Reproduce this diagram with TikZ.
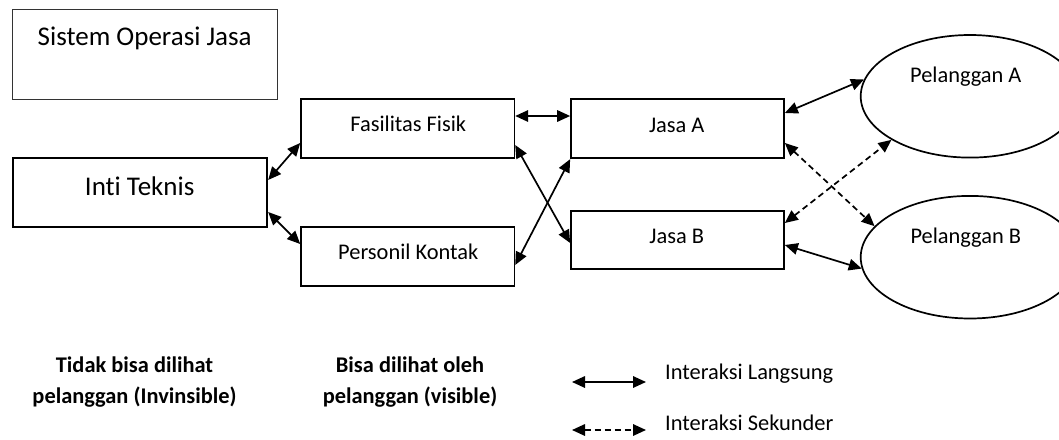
\documentclass[tikz,border=0pt]{standalone}
\usepackage{fontspec}
\setmainfont{Carlito}[Ligatures=NoCommon]
\usetikzlibrary{arrows.meta,shapes.geometric}
\begin{document}
\begin{tikzpicture}[x=1pt,y=-1pt,
  box/.style={draw, line width=1.7pt, rectangle, inner sep=0pt, minimum width=213.3pt, minimum height=59pt},
  ell/.style={draw, line width=1.7pt, ellipse, inner sep=0pt, minimum width=218.6pt, minimum height=122.6pt},
  lbl/.style={font=\fontsize{22.4}{26}\selectfont, anchor=base, inner sep=0pt},
  biglbl/.style={font=\fontsize{27}{32}\selectfont, anchor=base, inner sep=0pt},
  boldlbl/.style={font=\fontsize{22.4}{26}\selectfont\bfseries, anchor=base, inner sep=0pt},
  leglbl/.style={font=\fontsize{22.4}{26}\selectfont, anchor=base west, inner sep=0pt},
  tip/.tip={Triangle[length=13pt,width=11.5pt]},
  link/.style={line width=1.7pt, tip-tip},
  sec/.style={link, dash pattern=on 6pt off 4pt},
]
\useasboundingbox (0,0) rectangle (1059,439);
\clip (0,0) rectangle (1059,439);

% boxes
\node[draw=black!80, line width=1pt, rectangle, inner sep=0pt, minimum width=265pt, minimum height=90pt] (sys) at (145.2,54.3) {};
\node[box, minimum width=254.6pt, minimum height=69pt] (inti) at (140,192.8) {};
\node[box] (fas) at (407.7,128.8) {};
\node[box, minimum height=59.3pt] (pers) at (407.7,256.3) {};
\node[box, minimum width=213pt] (jasaA) at (677.5,128.8) {};
\node[box, minimum width=213pt, minimum height=58.6pt] (jasaB) at (677.5,240) {};
\node[ell] (pelA) at (970,96.3) {};
\node[ell] (pelB) at (970,257.2) {};

% texts
\node[biglbl] (tsys) at (144.7,45.7) {Sistem Operasi Jasa};
\node[biglbl] (tinti) at (139.7,195.4) {Inti Teknis};
\node[lbl] (tfas) at (408.3,131.5) {Fasilitas Fisik};
\node[lbl] (tpers) at (408.3,259.5) {Personil Kontak};
\node[lbl] (tjasaA) at (676.7,132.2) {Jasa A};
\node[lbl] (tjasaB) at (676.7,243.9) {Jasa B};
\node[lbl] (tpelA) at (965.8,82) {Pelanggan A};
\node[lbl] (tpelB) at (965.8,243.2) {Pelanggan B};

\node[boldlbl] (inv1) at (134.5,372.2) {Tidak bisa dilihat};
\node[boldlbl] (inv2) at (134.5,403.2) {pelanggan (Invinsible)};
\node[boldlbl] (vis1) at (410,372.2) {Bisa dilihat oleh};
\node[boldlbl] (vis2) at (410,403.2) {pelanggan (visible)};

% connectors
\draw[link] (inti.east |- 0,180) -- (fas.west |- 0,143);
\draw[link] (inti.east |- 0,212) -- (pers.west |- 0,244);
\draw[link] (fas.east |- 0,116) -- (jasaA.west |- 0,116);
\draw[link] (fas.east |- 0,145) -- (jasaB.west |- 0,243);
\draw[link] (pers.east |- 0,265) -- (jasaA.south west);
\draw[link] (jasaA.east |- 0,113) -- (pelA.171);
\draw[sec] (jasaA.east |- 0,143) -- (pelB.162);
\draw[sec] (jasaB.east |- 0,223) -- (pelA.209.6);
\draw[link] (jasaB.east |- 0,245) -- (pelB.186);

% legend
\coordinate (l1a) at (572,382);
\coordinate (l1b) at (646,382);
\coordinate (l2a) at (572,430);
\coordinate (l2b) at (646,430);
\draw[link] (l1a) -- (l1b);
\draw[sec] (l2a) -- (l2b);
\node[leglbl] (leg1) at (665,379) {Interaksi Langsung};
\node[leglbl] (leg2) at (665,430.5) {Interaksi Sekunder};
\end{tikzpicture}
\end{document}
